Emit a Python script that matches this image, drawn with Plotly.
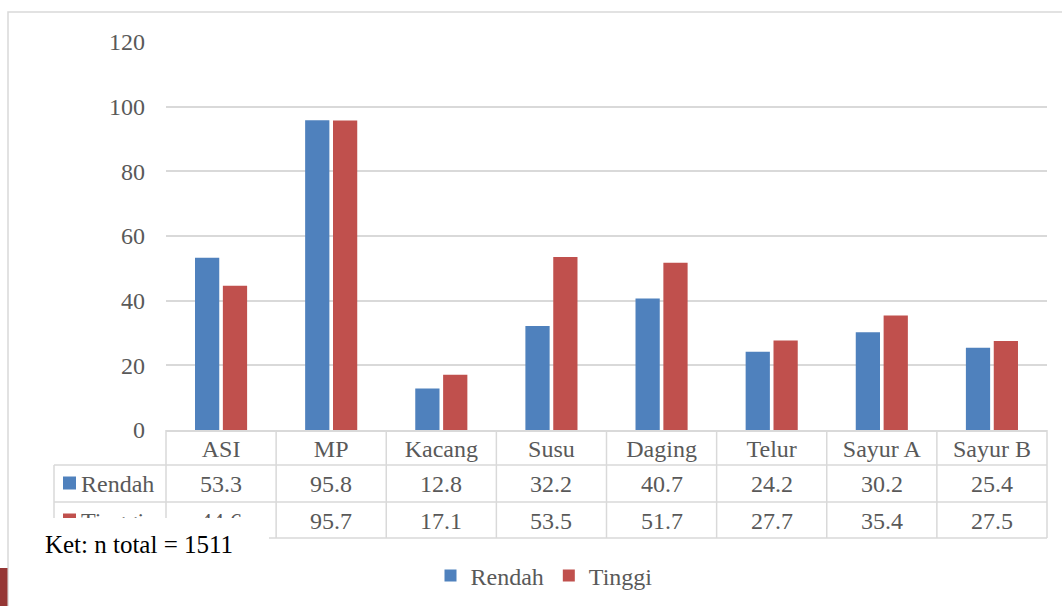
import plotly.graph_objects as go

# Data
categories = ["ASI", "MP", "Kacang", "Susu", "Daging", "Telur", "Sayur A", "Sayur B"]
rendah = [53.3, 95.8, 12.8, 32.2, 40.7, 24.2, 30.2, 25.4]
tinggi = [44.6, 95.7, 17.1, 53.5, 51.7, 27.7, 35.4, 27.5]
series_names = ["Rendah", "Tinggi"]
y_ticks = [0, 20, 40, 60, 80, 100, 120]
note_text = "Ket: n total = 1511"

# Style
W, H = 1062, 606
L, R, T, B = 166, 15, 42, 176
BLUE = "#4F81BD"
RED = "#C0504D"
GRID = "#D9D9D9"
TXT = "#595959"
FONT = "Liberation Serif"
FS = 24

plot_w = W - L - R
plot_h = H - T - B


def px_x(px):
    """Pixel x -> paper x."""
    return (px - L) / plot_w


def px_y(py):
    """Pixel y -> paper y."""
    return (H - B - py) / plot_h


fig = go.Figure()
fig.add_trace(go.Bar(name=series_names[0], x=categories, y=rendah,
                     marker=dict(color=BLUE, line=dict(width=0))))
fig.add_trace(go.Bar(name=series_names[1], x=categories, y=tinggi,
                     marker=dict(color=RED, line=dict(width=0))))

shapes = []
annotations = []
n = len(categories)

# outer chart frame
shapes.append(dict(type="rect", xref="paper", yref="paper",
                   x0=px_x(8), x1=px_x(1080), y0=px_y(12), y1=px_y(640),
                   line=dict(color=GRID, width=1.5), fillcolor="rgba(0,0,0,0)",
                   layer="below"))

# data table grid lines
row_lines = [465, 502, 538]
for ry in row_lines:
    shapes.append(dict(type="line", xref="paper", yref="paper",
                       x0=px_x(54), x1=1, y0=px_y(ry), y1=px_y(ry),
                       line=dict(color=GRID, width=1.5)))
for i in range(n + 1):
    shapes.append(dict(type="line", xref="paper", yref="paper",
                       x0=i / n, x1=i / n, y0=0, y1=px_y(538),
                       line=dict(color=GRID, width=1.5)))
shapes.append(dict(type="line", xref="paper", yref="paper",
                   x0=px_x(54), x1=px_x(54), y0=px_y(465), y1=px_y(538),
                   line=dict(color=GRID, width=1.5)))

# row headers with colour keys
row_centers = [483.5, 520.5]
for name, color, cy in zip(series_names, [BLUE, RED], row_centers):
    shapes.append(dict(type="rect", xref="paper", yref="paper",
                       x0=px_x(63), x1=px_x(76), y0=px_y(cy - 7), y1=px_y(cy + 6),
                       line=dict(width=0), fillcolor=color))
    annotations.append(dict(text=name, xref="paper", yref="paper",
                            x=px_x(79), y=px_y(cy), xanchor="left", yanchor="middle",
                            showarrow=False, font=dict(family=FONT, size=FS, color=TXT)))

# table values
for vals, cy in zip([rendah, tinggi], row_centers):
    for cat, v in zip(categories, vals):
        annotations.append(dict(text=f"{v:.1f}", xref="x", yref="paper",
                                x=cat, y=px_y(cy), xanchor="center", yanchor="middle",
                                showarrow=False, font=dict(family=FONT, size=FS, color=TXT)))

# note box laid over the table corner
annotations.append(dict(text=note_text, xref="paper", yref="paper",
                        x=px_x(9), y=px_y(518), xanchor="left", yanchor="top",
                        width=260, height=52, align="center", valign="middle",
                        bgcolor="white", borderpad=0, borderwidth=0,
                        showarrow=False, font=dict(family=FONT, size=25, color="black")))

# dark accent strip at the page edge
shapes.append(dict(type="rect", xref="paper", yref="paper",
                   x0=px_x(-2), x1=px_x(7.5), y0=px_y(568), y1=px_y(620),
                   line=dict(width=0), fillcolor="#953735"))

fig.update_layout(
    width=W, height=H,
    margin=dict(l=L, r=R, t=T, b=B, autoexpand=False),
    paper_bgcolor="white", plot_bgcolor="white",
    barmode="group", bargap=0.494, bargroupgap=0.13,
    font=dict(family=FONT, size=FS, color=TXT),
    showlegend=True,
    legend=dict(orientation="h", x=px_x(544), xanchor="center",
                y=px_y(576), yanchor="middle",
                font=dict(family=FONT, size=FS, color=TXT),
                bgcolor="rgba(0,0,0,0)"),
    shapes=shapes,
    annotations=annotations,
)
fig.update_yaxes(range=[0, 120], tickvals=y_ticks, showgrid=True, gridcolor=GRID,
                 gridwidth=1.5, zeroline=False, showline=False,
                 ticklabelstandoff=20, tickfont=dict(family=FONT, size=FS, color=TXT))
fig.update_xaxes(showgrid=False, showline=True, linecolor=GRID, linewidth=1.5,
                 ticks="", ticklabelstandoff=-4,
                 tickfont=dict(family=FONT, size=FS, color=TXT))

fig.write_html("out.html")
